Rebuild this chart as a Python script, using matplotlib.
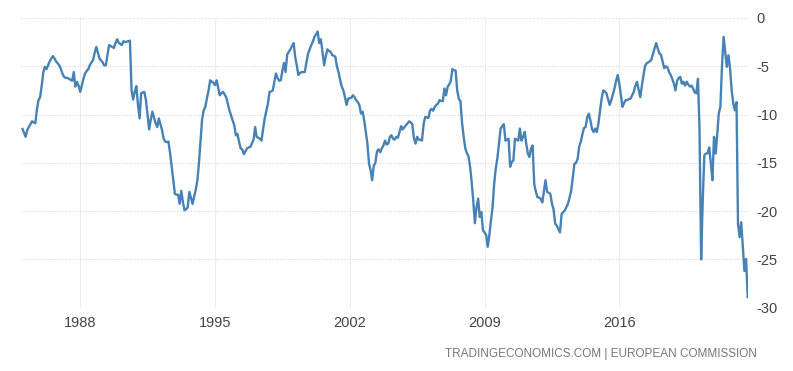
import matplotlib
matplotlib.use("Agg")
import matplotlib.pyplot as plt
from matplotlib import font_manager
import pandas as pd

start_month = "1985-01-01"
values = [
    # 1985
    -11.5, -11.9, -12.3, -11.6, -11.3, -11.0, -10.7, -10.8, -10.9, -9.5, -8.5, -8.2,
    # 1986
    -7.0, -5.6, -5.05, -5.3, -4.9, -4.5, -4.2, -3.95, -4.2, -4.5, -4.7, -4.9,
    # 1987
    -5.3, -5.8, -6.1, -6.2, -6.2, -6.3, -6.4, -6.5, -5.6, -7.1, -6.6, -7.0,
    # 1988
    -7.65, -7.0, -6.3, -5.75, -5.5, -5.3, -4.9, -4.6, -4.35, -3.6, -3.0, -3.6,
    # 1989
    -4.2, -4.4, -4.6, -4.9, -4.9, -3.8, -2.8, -2.9, -3.0, -3.1, -2.6, -2.2,
    # 1990
    -2.55, -2.7, -2.8, -2.4, -2.5, -2.45, -2.4, -2.35, -7.5, -8.45, -7.6, -7.05,
    # 1991
    -9.0, -10.4, -7.8, -7.7, -7.65, -8.5, -10.0, -11.55, -10.5, -9.7, -10.3, -10.9,
    # 1992
    -11.3, -10.4, -11.0, -11.6, -12.5, -12.8, -12.85, -12.8, -14.0, -15.4, -16.8, -18.2,
    # 1993
    -18.3, -18.3, -19.25, -17.9, -19.0, -19.9, -19.8, -19.6, -18.0, -18.6, -19.25, -18.5,
    # 1994
    -17.8, -16.8, -15.1, -12.8, -10.5, -9.55, -9.2, -8.3, -7.5, -6.45, -6.6, -6.7,
    # 1995
    -6.95, -6.45, -7.2, -8.0, -7.8, -7.65, -7.9, -8.2, -8.9, -9.55, -10.1, -10.6,
    # 1996
    -11.1, -12.15, -12.0, -12.8, -13.5, -13.6, -14.1, -13.8, -13.5, -13.4, -13.35, -13.0,
    # 1997
    -12.6, -11.3, -12.3, -12.4, -12.5, -12.7, -11.5, -10.4, -9.6, -8.85, -7.65, -7.6,
    # 1998
    -7.5, -6.6, -5.75, -6.2, -6.5, -6.45, -5.5, -4.65, -5.6, -3.8, -3.5, -3.25,
    # 1999
    -2.9, -2.6, -4.0, -4.9, -5.9, -5.7, -5.6, -5.6, -5.6, -4.6, -3.7, -3.25,
    # 2000
    -2.8, -2.45, -1.95, -1.7, -1.4, -2.6, -2.2, -3.5, -4.9, -4.0, -3.25, -3.4,
    # 2001
    -3.5, -3.85, -3.9, -4.0, -5.0, -5.6, -6.4, -7.1, -7.5, -8.2, -9.0, -8.35,
    # 2002
    -8.3, -8.25, -8.0, -8.2, -8.5, -8.7, -9.0, -9.9, -9.7, -10.6, -11.8, -13.0,
    # 2003
    -15.1, -15.8, -16.8, -15.3, -15.0, -13.8, -13.6, -13.9, -13.5, -13.2, -12.7, -13.1,
    # 2004
    -13.0, -12.3, -12.15, -12.5, -12.6, -12.3, -12.4, -11.8, -11.2, -11.55, -11.3, -11.1,
    # 2005
    -10.9, -10.7, -10.8, -11.0, -12.45, -13.0, -12.3, -12.6, -12.6, -12.7, -11.0, -10.25,
    # 2006
    -10.3, -10.35, -9.6, -9.4, -9.6, -9.2, -9.0, -8.85, -8.5, -8.6, -8.6, -7.3,
    # 2007
    -8.0, -7.1, -6.9, -6.5, -5.3, -5.4, -5.45, -7.5, -8.4, -8.6, -10.9, -12.3,
    # 2008
    -13.5, -14.0, -14.3, -15.4, -17.0, -19.0, -21.25, -19.6, -18.7, -20.6, -20.1, -22.0,
    # 2009
    -22.2, -22.5, -23.7, -22.5, -21.0, -19.6, -17.2, -15.6, -14.5, -13.0, -11.45, -11.2,
    # 2010
    -11.0, -12.7, -12.6, -12.5, -15.4, -14.9, -14.75, -12.5, -12.6, -12.7, -11.45, -12.7,
    # 2011
    -12.3, -11.8, -13.0, -14.0, -14.4, -13.5, -13.2, -17.2, -18.0, -18.55, -18.6, -18.7,
    # 2012
    -19.1, -17.9, -16.8, -18.0, -18.1, -18.2, -19.2, -19.8, -21.3, -21.5, -21.85, -22.2,
    # 2013
    -20.3, -20.1, -19.95, -19.6, -19.25, -18.6, -17.9, -16.5, -15.1, -15.0, -14.6, -13.3,
    # 2014
    -12.8, -12.0, -11.4, -11.3, -10.3, -9.9, -10.6, -11.5, -11.8, -11.45, -11.8, -10.9,
    # 2015
    -9.55, -8.3, -7.5, -7.6, -7.8, -8.4, -9.0, -8.5, -7.9, -7.3, -6.5, -5.9,
    # 2016
    -6.8, -8.0, -9.2, -8.8, -8.5, -8.5, -8.4, -8.35, -8.0, -7.65, -7.0, -6.6,
    # 2017
    -7.4, -8.2, -7.1, -6.0, -5.0, -4.7, -4.6, -4.5, -4.3, -3.7, -3.1, -2.6,
    # 2018
    -3.2, -3.7, -3.8, -4.5, -5.2, -5.0, -5.1, -5.6, -5.9, -6.3, -6.8, -7.5,
    # 2019
    -6.5, -6.2, -6.1, -6.8, -6.6, -7.0, -6.6, -6.9, -7.1, -7.0, -7.3, -7.7,
    # 2020
    -7.8, -6.3, -11.5, -25.0, -18.9, -14.2, -14.05, -14.0, -13.4, -15.0, -16.8, -12.3,
    # 2021
    -14.05, -12.0, -9.9, -9.2, -5.05, -1.95, -3.5, -5.05, -3.85, -5.2, -7.5, -8.85,
    # 2022
    -9.55, -8.7, -21.3, -22.7, -21.15, -23.75, -26.2, -24.95, -28.9,
]
tick_years = [1988, 1995, 2002, 2009, 2016]
y_ticks = [0, -5, -10, -15, -20, -25, -30]
source_text = "TRADINGECONOMICS.COM | EUROPEAN COMMISSION"

dates = pd.date_range(start_month, periods=len(values), freq="MS")

avail = {f.name for f in font_manager.fontManager.ttflist}
fam = "Liberation Sans" if "Liberation Sans" in avail else "DejaVu Sans"

fig = plt.figure(figsize=(7.93, 3.71), dpi=100)
ax = fig.add_axes([0.0259, 0.1706, 0.9171, 0.7809])
ax.plot(dates, values, color="#4682b4", linewidth=1.7, solid_joinstyle="round")

ax.set_ylim(-30, 0)
ax.set_xlim(pd.Timestamp("1984-11-25"), dates[-1] + pd.Timedelta(days=2))
ax.set_yticks(y_ticks)
ax.set_yticklabels([str(v) for v in y_ticks])
ax.set_xticks([pd.Timestamp(f"{y}-01-01") for y in tick_years])
ax.set_xticklabels([str(y) for y in tick_years])

ax.yaxis.tick_right()
ax.tick_params(axis="both", length=0, labelsize=10.5, labelcolor="#444444")
ax.tick_params(axis="y", pad=6)
ax.tick_params(axis="x", pad=6)
for lab in ax.get_xticklabels() + ax.get_yticklabels():
    lab.set_fontfamily(fam)
for lab in ax.get_yticklabels():
    lab.set_horizontalalignment("left")

ax.grid(axis="y", color="#d8d8d8", linestyle=(0, (1, 1.5)), linewidth=0.8)
ax.grid(axis="x", color="#eeeeee", linestyle="-", linewidth=0.8)
for s in ax.spines.values():
    s.set_visible(False)

fig.text(757 / 793, 1 - 354 / 371, source_text, ha="right", va="center",
         fontsize=8.5, color="#777777", family=fam)

fig.savefig("out.png", dpi=100, facecolor="white")
